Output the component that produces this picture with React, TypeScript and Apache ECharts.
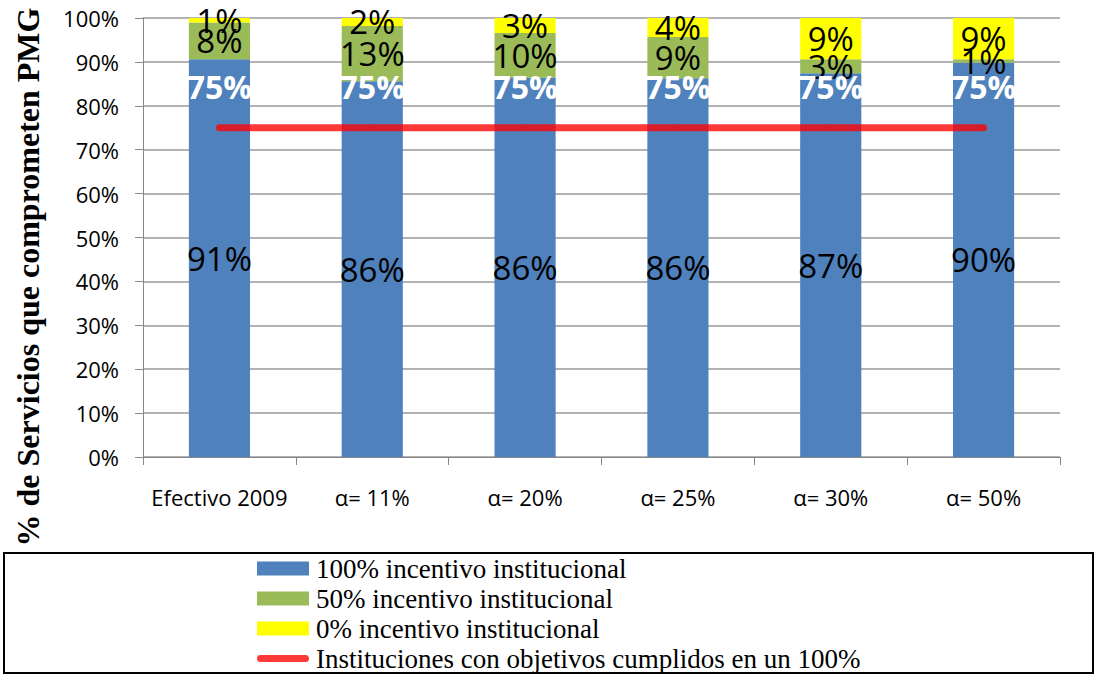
import React, { useEffect, useRef } from "react";
import * as echarts from "echarts";

const categories = ["Efectivo 2009", "α= 11%", "α= 20%", "α= 25%", "α= 30%", "α= 50%"];
const full = [90.6, 85.6, 86.4, 86.3, 87.4, 89.8];
const half = [8.4, 12.6, 10.2, 9.4, 3.2, 0.8];
const none = [1.0, 1.8, 3.4, 4.3, 9.4, 9.4];
const target = [75, 75, 75, 75, 75, 75];
const seriesNames = [
  "100% incentivo institucional",
  "50% incentivo institucional",
  "0% incentivo institucional",
  "Instituciones con objetivos cumplidos en un 100%",
];

const RED = "rgba(255,0,0,0.78)";
const SANS = "'Open Sans', 'Noto Sans', sans-serif";
const SERIF = "'Liberation Serif', 'DejaVu Serif', serif";

export default function App() {
  const ref = useRef<HTMLDivElement>(null);
  useEffect(() => {
    document.body.style.margin = "0";
    const chart = echarts.init(ref.current!, undefined, { renderer: "svg" });
    const barLabel = {
      show: true,
      position: "inside",
      color: "#000",
      fontFamily: SANS,
      fontSize: 33,
      formatter: (p: any) => `${Math.round(p.value)}%`,
    };
    chart.setOption({
      animation: false,
      grid: { left: 143, right: 36, top: 18, bottom: 218 },
      xAxis: {
        type: "category",
        data: categories,
        axisLine: { lineStyle: { color: "#868686", width: 1 } },
        axisTick: { show: true, length: 8, lineStyle: { color: "#868686" } },
        axisLabel: { color: "#000", fontFamily: SANS, fontSize: 22, margin: 29, interval: 0 },
      },
      yAxis: {
        type: "value",
        min: 0,
        max: 100,
        interval: 10,
        axisLine: { show: true, lineStyle: { color: "#868686" } },
        axisTick: { show: true, length: 8, lineStyle: { color: "#868686" } },
        axisLabel: { color: "#000", fontFamily: SANS, fontSize: 22, margin: 24, formatter: "{value}%" },
        splitLine: { lineStyle: { color: "#9a9a9a", width: 1.5 } },
      },
      legend: {
        orient: "vertical",
        left: 252,
        top: 550,
        height: 200,
        itemWidth: 52,
        itemHeight: 14,
        itemGap: 3,
        textStyle: { color: "#000", fontFamily: SERIF, fontSize: 27, lineHeight: 27, padding: [0, 0, 0, 2] },
        data: [
          { name: seriesNames[0], icon: "rect" },
          { name: seriesNames[1], icon: "rect" },
          { name: seriesNames[2], icon: "rect" },
          {
            name: seriesNames[3],
            icon: "path://M4,0 L54,0 A4,4 0 0 1 54,8 L4,8 A4,4 0 0 1 4,0 Z",
            itemStyle: { color: RED, borderWidth: 0 },
          },
        ],
      },
      graphic: [
        {
          type: "rect",
          shape: { x: 4, y: 553, width: 1089, height: 120 },
          style: { fill: "none", stroke: "#000", lineWidth: 2 },
          z: -1,
        },
        {
          type: "text",
          x: 28,
          y: 277,
          rotation: Math.PI / 2,
          style: {
            text: "% de Servicios que comprometen PMG",
            fontFamily: SERIF,
            fontWeight: "bold",
            fontSize: 32,
            fill: "#000",
            align: "center",
            verticalAlign: "middle",
          },
        },
      ],
      series: [
        {
          name: seriesNames[0],
          type: "bar",
          stack: "s",
          barWidth: "40%",
          data: full,
          itemStyle: { color: "#4F81BD" },
          label: barLabel,
        },
        {
          name: seriesNames[1],
          type: "bar",
          stack: "s",
          data: half,
          itemStyle: { color: "#9BBB59" },
          label: barLabel,
        },
        {
          name: seriesNames[2],
          type: "bar",
          stack: "s",
          data: none,
          itemStyle: { color: "#FFFF00" },
          label: barLabel,
        },
        {
          name: seriesNames[3],
          type: "line",
          data: target,
          symbol: "circle",
          symbolSize: 1,
          showSymbol: true,
          itemStyle: { color: RED },
          lineStyle: { color: RED, width: 7, cap: "round" },
          label: {
            show: true,
            position: "inside",
            offset: [0, -41],
            color: "#fff",
            fontFamily: SANS,
            fontWeight: "bold",
            fontSize: 32,
            formatter: (p: any) => `${p.value}%`,
          },
          z: 3,
        },
      ],
    });
    return () => chart.dispose();
  }, []);
  return <div ref={ref} style={{ width: 1096, height: 675 }} />;
}
